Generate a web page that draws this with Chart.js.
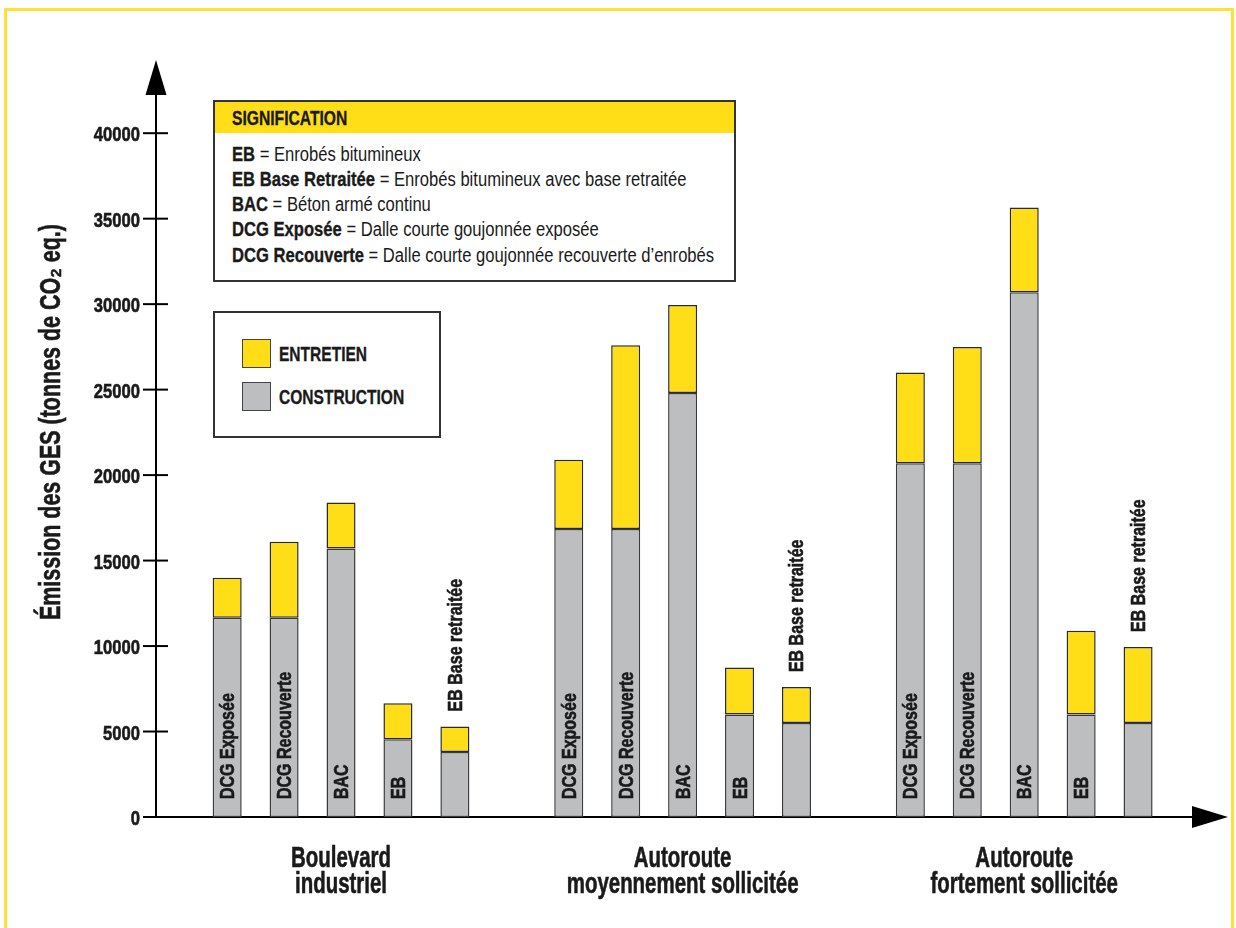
<!DOCTYPE html>
<html lang="fr">
<head>
<meta charset="utf-8">
<title>Émission des GES</title>
<script src="https://cdn.jsdelivr.net/npm/chart.js@4.4.1/dist/chart.umd.min.js"></script>
<style>
  body { margin: 0; background: #fff; font-family: "Liberation Sans", Arial, sans-serif; color: #1a1a1a; }
  #wrap { position: relative; width: 1236px; height: 928px; overflow: hidden; }
  #frame { position: absolute; left: 4px; top: 8px; width: 1230px; height: 960px; border: 3px solid #FFE033; box-sizing: border-box; pointer-events: none; }
  canvas { position: absolute; left: 0; top: 0; }
  .box { position: absolute; background: #fff; border: 2px solid #333; box-sizing: border-box; }
  .etroit { display: inline-block; transform-origin: left center; white-space: nowrap; }
  b, .tete, .item { -webkit-text-stroke: 0.35px #1a1a1a; }
  #signif { left: 213px; top: 100px; width: 523px; height: 182px; }
  #signif .tete { background: #FFDE17; height: 31px; line-height: 31px; padding-left: 17px; font-weight: bold; font-size: 21px; }
  #signif .tete .etroit { transform: scaleX(0.745); }
  #signif .corps { padding: 8.5px 0 0 17px; font-size: 20px; line-height: 25.3px; }
  #signif .corps .etroit { transform: scaleX(0.83); transform-origin: left top; }
  #legende { left: 213px; top: 311px; width: 228px; height: 127px; }
  .item { position: absolute; left: 27px; display: flex; align-items: center; font-weight: bold; font-size: 21px; }
  .item .etroit { transform: scaleX(0.74); }
  .item span.carre { width: 29px; height: 29px; box-sizing: border-box; border: 1px solid #444; margin-right: 8px; -webkit-text-stroke: 0; }
</style>
</head>
<body>
<div id="wrap">
  <canvas id="myChart" width="1236" height="928"></canvas>
  <div id="signif" class="box">
    <div class="tete"><span class="etroit">SIGNIFICATION</span></div>
    <div class="corps"><div class="etroit">
      <b>EB</b> = Enrobés bitumineux<br>
      <b>EB Base Retraitée</b> = Enrobés bitumineux avec base retraitée<br>
      <b>BAC</b> = Béton armé continu<br>
      <b>DCG Exposée</b> = Dalle courte goujonnée exposée<br>
      <b>DCG Recouverte</b> = Dalle courte goujonnée recouverte d’enrobés
    </div></div>
  </div>
  <div id="legende" class="box"></div>
  <div id="frame"></div>
</div>
<script>
// groupes de routes et revetements
const groupes = [['Boulevard', 'industriel'], ['Autoroute', 'moyennement sollicitée'], ['Autoroute', 'fortement sollicitée']];
const revetements = ['DCG Exposée', 'DCG Recouverte', 'BAC', 'EB', 'EB Base retraitée'];

// tonnes de CO2 eq. (5 revetements par groupe)
const construction = [11650, 11650, 15700, 4550, 3800,
                      16850, 16850, 24800, 6000, 5500,
                      20700, 20700, 30700, 6000, 5500];
const entretien = [2350, 4450, 2700, 2100, 1500,
                   4050, 10750, 5150, 2750, 2100,
                   5300, 6800, 4950, 4900, 4450];

const yTicks = [0, 5000, 10000, 15000, 20000, 25000, 30000, 35000, 40000];
const titreY = 'Émission des GES (tonnes de CO₂ eq.)';

const JAUNE = '#FFDE17';
const GRIS = '#BCBEC0';
const POLICE = '"Liberation Sans", Arial, sans-serif';

// position sur l'axe x : 5 barres puis un espace vide
const pos = n => Math.floor(n / 5) * 6 + n % 5;

// texte "condense" (police etroite simulee)
function texte(c, str, x, y, taille, serre, align, angle) {
    c.save();
    c.translate(x, y);
    if (angle) c.rotate(angle);
    c.scale(serre, 1);
    c.font = 'bold ' + taille + 'px ' + POLICE;
    c.textAlign = align;
    c.textBaseline = 'alphabetic';
    c.lineWidth = 0.6;
    c.strokeStyle = c.fillStyle;
    c.fillText(str, 0, 0);
    c.strokeText(str, 0, 0);
    c.restore();
}

const ctx = document.getElementById('myChart');

const axesPlugin = {
    id: 'axes',
    afterDraw(chart) {
        const c = chart.ctx;
        const a = chart.chartArea;
        const y = chart.scales.y;
        c.save();
        c.fillStyle = '#000';
        c.strokeStyle = '#000';
        c.lineWidth = 2;
        // graduations qui traversent l'axe
        y.ticks.forEach(t => {
            const py = y.getPixelForValue(t.value);
            c.beginPath();
            c.moveTo(a.left - 13, py);
            c.lineTo(a.left + 12, py);
            c.stroke();
        });
        // fleche verticale
        c.beginPath();
        c.moveTo(a.left, a.top + 1);
        c.lineTo(a.left, a.top - 6);
        c.stroke();
        c.beginPath();
        c.moveTo(a.left, a.top - 39);
        c.lineTo(a.left - 10.5, a.top - 4);
        c.lineTo(a.left + 10.5, a.top - 4);
        c.closePath();
        c.fill();
        // fleche horizontale
        c.beginPath();
        c.moveTo(a.right + 33, a.bottom);
        c.lineTo(a.right - 3, a.bottom - 11);
        c.lineTo(a.right - 3, a.bottom + 11);
        c.closePath();
        c.fill();
        // etiquettes des graduations
        c.fillStyle = '#1a1a1a';
        y.ticks.forEach(t => {
            texte(c, String(t.value), a.left - 16, y.getPixelForValue(t.value) + 8, 20, 0.83, 'right');
        });
        // titre de l'axe
        texte(c, titreY, 60, y.getPixelForValue(23100), 29, 0.74, 'center', -Math.PI / 2);
        c.restore();
    }
};

const etiquettesPlugin = {
    id: 'etiquettes',
    afterDatasetsDraw(chart) {
        const c = chart.ctx;
        const bas = chart.getDatasetMeta(0).data;
        const haut = chart.getDatasetMeta(1).data;
        c.save();
        c.fillStyle = '#1a1a1a';
        bas.forEach((bar, n) => {
            const i = n % 5;
            const y0 = i < 4 ? bar.base - 18 : haut[n].y - 15;
            c.save();
            c.translate(bar.x, y0);
            c.rotate(-Math.PI / 2);
            texte(c, revetements[i], 0, 7, 20, 0.8, 'left');
            c.restore();
        });
        // noms des groupes sous l'axe
        const x = chart.scales.x;
        const a = chart.chartArea;
        groupes.forEach((g, k) => {
            const px = x.getPixelForValue(k * 6 + 2);
            texte(c, g[0], px, a.bottom + 50, 29, 0.705, 'center');
            texte(c, g[1], px, a.bottom + 76, 29, 0.705, 'center');
        });
        c.restore();
    }
};

const chart = new Chart(ctx, {
    type: 'bar',
    data: {
        datasets: [{
            label: 'CONSTRUCTION',
            data: construction.map((v, n) => ({ x: pos(n), y: v })),
            backgroundColor: GRIS,
            borderColor: '#3a3a3a',
            borderWidth: 1.5,
            borderSkipped: false
        }, {
            label: 'ENTRETIEN',
            data: entretien.map((v, n) => ({ x: pos(n), y: v })),
            backgroundColor: JAUNE,
            borderColor: '#2a2a2a',
            borderWidth: 1.5,
            borderSkipped: false
        }]
    },
    options: {
        responsive: false,
        animation: false,
        categoryPercentage: 1,
        barPercentage: 0.51,
        layout: { padding: { top: 99, right: 41, bottom: 111, left: 0 } },
        plugins: { legend: { display: false }, tooltip: { enabled: false } },
        scales: {
            x: {
                type: 'linear',
                offset: false,
                min: -1.25,
                max: 17,
                stacked: true,
                afterFit: s => { s.height = 0; },
                grid: { display: false },
                ticks: { display: false },
                border: { display: true, color: '#000', width: 2 }
            },
            y: {
                min: 0,
                max: 42000,
                stacked: true,
                afterBuildTicks: s => { s.ticks = yTicks.map(v => ({ value: v })); },
                afterFit: s => { s.width = 156; },
                ticks: { display: false },
                grid: { display: false },
                border: { color: '#000', width: 2 }
            }
        }
    },
    plugins: [axesPlugin, etiquettesPlugin]
});

// legende construite depuis les series
const legende = document.getElementById('legende');
chart.data.datasets.slice().reverse().forEach((ds, k) => {
    const item = document.createElement('div');
    item.className = 'item';
    item.style.top = (26 + k * 43) + 'px';
    item.innerHTML = '<span class="carre" style="background:' + ds.backgroundColor + '"></span><span class="etroit">' + ds.label + '</span>';
    legende.appendChild(item);
});
</script>
</body>
</html>
